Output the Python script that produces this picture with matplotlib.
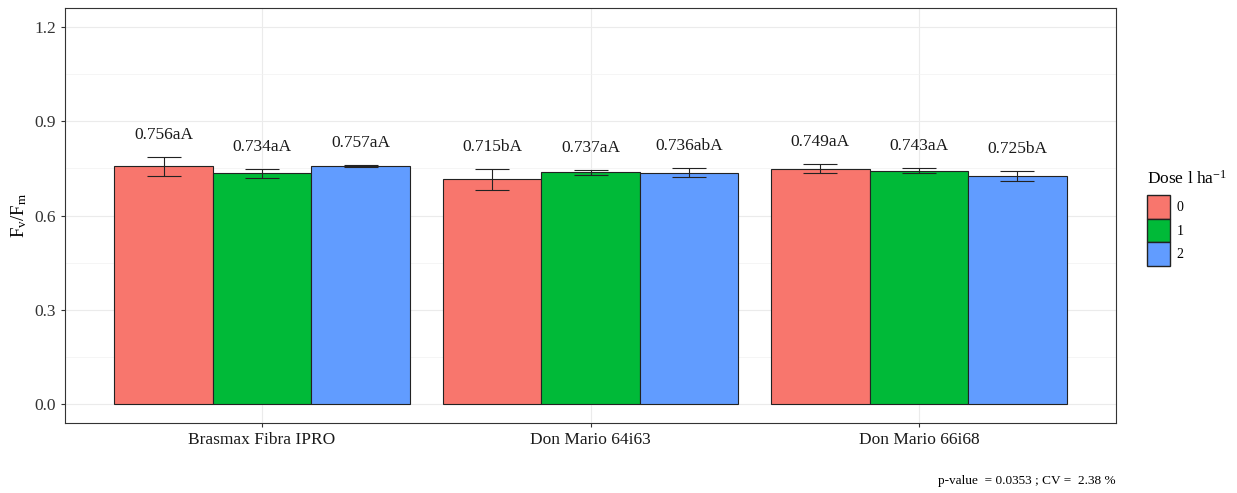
import matplotlib
matplotlib.use("Agg")
import matplotlib.pyplot as plt
import numpy as np
from matplotlib.patches import Patch

plt.rcParams['font.family'] = ['Liberation Serif', 'DejaVu Serif']
plt.rcParams['mathtext.fontset'] = 'custom'
plt.rcParams['mathtext.rm'] = 'Liberation Serif'
plt.rcParams['mathtext.it'] = 'Liberation Serif'

cultivars = ["Brasmax Fibra IPRO", "Don Mario 64i63", "Don Mario 66i68"]
doses = ["0", "1", "2"]
means = {
    "0": [0.756, 0.715, 0.749],
    "1": [0.734, 0.737, 0.743],
    "2": [0.757, 0.736, 0.725],
}
errors = {
    "0": [0.030, 0.033, 0.015],
    "1": [0.015, 0.008, 0.007],
    "2": [0.003, 0.015, 0.016],
}
letters = {
    "0": ["aA", "bA", "aA"],
    "1": ["aA", "aA", "aA"],
    "2": ["aA", "abA", "bA"],
}
colors = {"0": "#F8766D", "1": "#00BA38", "2": "#619CFF"}
yticks = [0.0, 0.3, 0.6, 0.9, 1.2]
caption = "p-value  = 0.0353 ; CV =  2.38 %"

W, H = 1237, 493
fig = plt.figure(figsize=(W / 100, H / 100), dpi=100)
left, right, bottom, top = 65, 1116, 423, 8
ax = fig.add_axes([left / W, 1 - bottom / H, (right - left) / W, (bottom - top) / H])

x = np.arange(1, len(cultivars) + 1)
width = 0.3
for i, d in enumerate(doses):
    pos = x + (i - 1) * width
    ax.bar(pos, means[d], width=width, color=colors[d], edgecolor="#222222",
           linewidth=0.8, zorder=3)
    ax.errorbar(pos, means[d], yerr=errors[d], fmt="none", ecolor="#222222",
                elinewidth=0.8, capsize=12, capthick=0.8, zorder=4)
    for p, m, e, l in zip(pos, means[d], errors[d], letters[d]):
        ax.text(p, m + e + 0.07, f"{m:.3f}{l}", ha="center", va="center",
                fontsize=12.5, color="#1a1a1a", zorder=5)

ax.set_xlim(0.4, 3.6)
ax.set_ylim(-0.06, 1.26)
ax.set_yticks(yticks)
ax.set_yticklabels([f"{t:.1f}" for t in yticks], fontsize=12.5, color="#333333")
ax.set_yticks([0.15, 0.45, 0.75, 1.05], minor=True)
ax.set_xticks(x)
ax.set_xticklabels(cultivars, fontsize=12.5, color="#1a1a1a")
ax.tick_params(axis="both", which="major", length=3, color="#333333")
ax.tick_params(axis="y", which="minor", length=0)
ax.grid(True, which="major", color="#EBEBEB", linewidth=0.8, zorder=0)
ax.grid(True, which="minor", axis="y", color="#F2F2F2", linewidth=0.5, zorder=0)
for s in ax.spines.values():
    s.set_color("#333333")
    s.set_linewidth(0.8)

ax.set_ylabel(r"$\mathregular{F_v/F_m}$", fontsize=13.5, labelpad=4)

handles = [Patch(facecolor=colors[d], edgecolor="#222222", label=d) for d in doses]
leg = fig.legend(handles=handles, title=r"Dose l ha$^{-1}$", loc="upper left",
                 bbox_to_anchor=(1140 / W, 1 - 163 / H), frameon=False, fontsize=10,
                 title_fontsize=12.5, handlelength=1.65, handleheight=2.25,
                 handletextpad=0.5, labelspacing=0.0, borderpad=0)
leg._legend_box.align = "left"
leg._legend_box.sep = 5

fig.text(right / W, 1 - 481 / H, caption, ha="right", va="center", fontsize=9.5)

fig.savefig("out.png", dpi=100)
